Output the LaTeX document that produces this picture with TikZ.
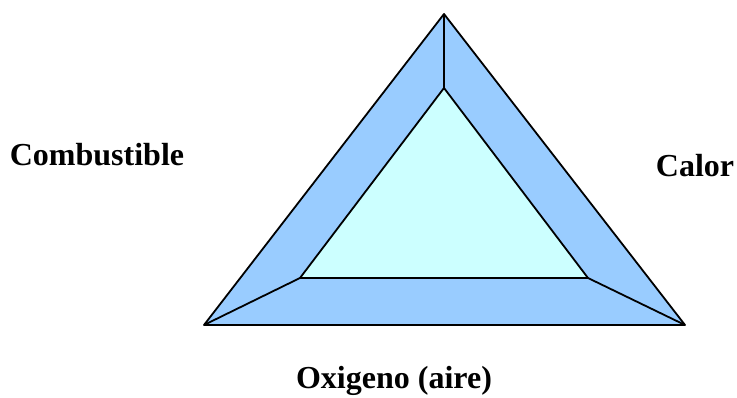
\documentclass[tikz,border=0pt]{standalone}
\usepackage{fontspec}
\setmainfont{Liberation Serif}
\usetikzlibrary{positioning}
\definecolor{bandblue}{HTML}{99CCFF}
\definecolor{corecyan}{HTML}{CCFFFF}
\begin{document}
\begin{tikzpicture}[
    x=1pt, y=-1pt,
    edge/.style={draw=black, line width=1.8pt, line join=round},
    label/.style={font=\fontsize{32}{38}\selectfont\bfseries, inner sep=0pt},
]
\useasboundingbox (0,0) rectangle (737,398);
% outer and inner corners
\coordinate (top) at (444,14);
\coordinate (left) at (204,325);
\coordinate (right) at (685,325);
\coordinate (itop) at (444,88);
\coordinate (ileft) at (300,278);
\coordinate (iright) at (588,278);

\fill[bandblue] (top) -- (right) -- (left) -- cycle;
\fill[corecyan] (itop) -- (iright) -- (ileft) -- cycle;
\draw[edge] (top) -- (right) -- (left) -- cycle;
\draw[edge] (itop) -- (iright) -- (ileft) -- cycle;
\draw[edge] (top) -- (itop);
\draw[edge] (left) -- (ileft);
\draw[edge] (right) -- (iright);

\node[label] (fuel) at (97,155) {Combustible};
\node[label] (heat) at (695,166) {Calor};
\node[label] (oxygen) at (394,381) {Oxigeno (aire)};
\end{tikzpicture}
\end{document}
